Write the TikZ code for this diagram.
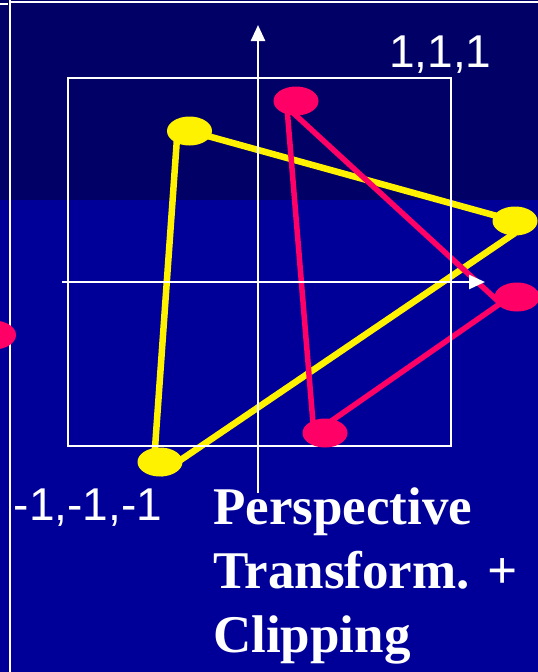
\documentclass[tikz,border=0pt]{standalone}
\usepackage{fontspec}
\setmainfont{Liberation Serif}
\newfontfamily\labelfont{Liberation Sans}
\usetikzlibrary{arrows.meta,shapes.geometric,calc,backgrounds}
\definecolor{navytop}{HTML}{000066}
\definecolor{navy}{HTML}{000099}
\definecolor{hotpink}{HTML}{FF0066}

\begin{document}
\begin{tikzpicture}[x=1pt,y=-1pt,vtx/.style={ellipse,inner sep=0pt,minimum width=45pt,minimum height=29pt},yv/.style={vtx,fill=yellow},pv/.style={vtx,fill=hotpink},yl/.style={yellow,line width=6.5pt},pl/.style={hotpink,line width=5.5pt},wl/.style={white,line width=2.5pt},ax/.style={wl,-{Triangle[length=16pt,width=14pt]}},lbl/.style={text=white,inner sep=0pt,font=\labelfont\fontsize{46}{46}\selectfont}]
\useasboundingbox (0,0) rectangle (538,672);
\node[yv] (y1) at (189.5,131) {};
\node[yv] (y2) at (515,221) {};
\node[yv] (y3) at (160,462) {};
\node[pv] (p1) at (296,101) {};
\node[pv] (p2) at (517,297) {};
\node[pv] (p3) at (325,433) {};
\node[pv] (p0) at (-6.5,335) {};
\coordinate (xs) at (62,282); \coordinate (xe) at (485,282);
\coordinate (ys) at (258,493); \coordinate (ye) at (258,25);
\node[lbl,anchor=base west] (hi) at (389,67) {1,1,1};
\node[lbl,anchor=base west] (lo) at (13.5,520) {-1,-1,-1};
\node[anchor=base west,align=left,text=white,inner sep=0pt,font=\bfseries\fontsize{53}{64}\selectfont] (cap) at (213,652) {Perspective\\Transform. +\\Clipping};
\begin{pgfonlayer}{background}
\fill[navy] (0,0) rectangle (538,672);
\fill[navytop] (0,0) rectangle (538,200);
% triangles
\draw[yl] (y1.center) -- (y2.center);
\draw[yl] ($(y2.center)+(0,12)$) -- ($(y3.center)+(0,12)$);
\draw[yl] ($(y3.center)+(-6,0)$) -- ($(y1.center)+(-12,0)$);
\draw[pl] ($(p1.center)+(-6,9)$) -- ($(p2.center)+(-18,5)$);
\draw[pl] ($(p2.center)+(-16,6)$) -- ($(p3.center)+(2,-9)$);
\draw[pl] ($(p3.center)+(-12,-10)$) -- ($(p1.center)+(-9,7)$);
% frame, box and axes
\draw[wl] (10,0) -- (10,672); \draw[wl] (10,2) -- (538,2); \draw[wl] (0,4) -- (8,4);
\draw[wl] (68,78) rectangle (451,446);
\draw[ax] (xs) -- (xe); \draw[ax] (ys) -- (ye);
\end{pgfonlayer}
\end{tikzpicture}
\end{document}
